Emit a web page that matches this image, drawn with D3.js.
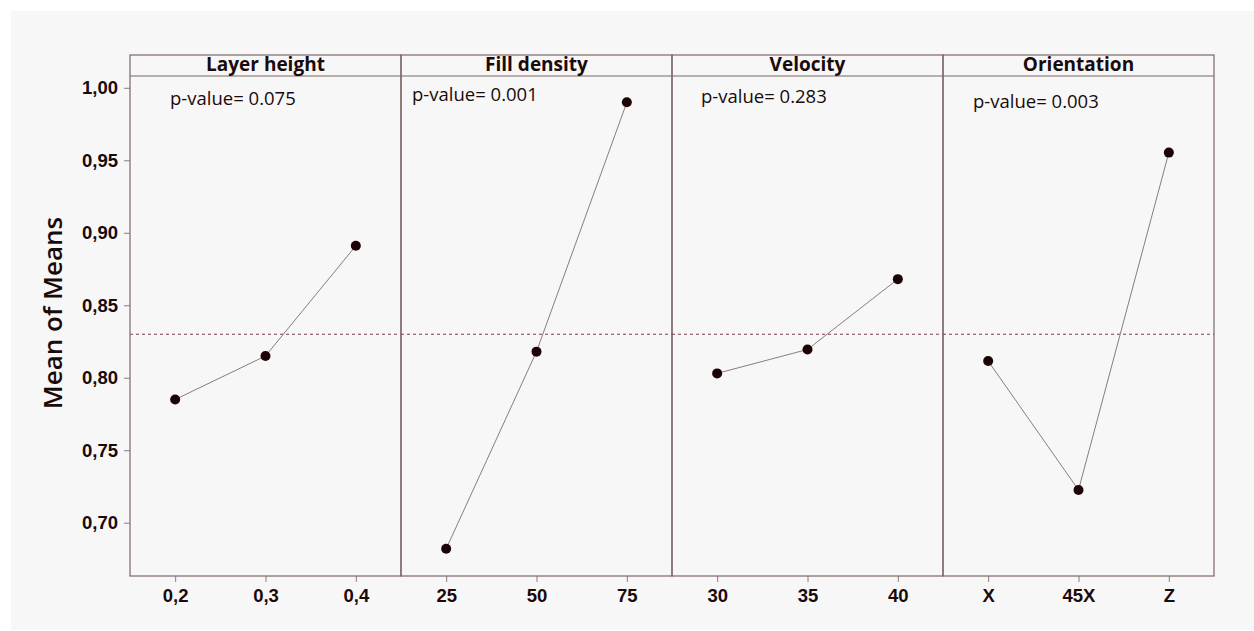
<!DOCTYPE html>
<html>
<head>
<meta charset="utf-8">
<script src="https://cdn.jsdelivr.net/npm/d3@7"></script>
<style>
  html, body { margin: 0; padding: 0; background: #ffffff; }
  svg { display: block; font-family: "Open Sans", "Noto Sans", sans-serif; }
</style>
</head>
<body>
<svg id="chart" width="1254" height="631"></svg>
<script>
// Main effects plot: mean of means for each factor level
const factors = ["Layer height", "Fill density", "Velocity", "Orientation"];
const pValues = ["0.075", "0.001", "0.283", "0.003"];
const layerLevels = ["0,2", "0,3", "0,4"];
const layerMeans = [0.785, 0.815, 0.891];
const fillLevels = ["25", "50", "75"];
const fillMeans = [0.682, 0.818, 0.990];
const velocityLevels = ["30", "35", "40"];
const velocityMeans = [0.803, 0.8195, 0.868];
const orientationLevels = ["X", "45X", "Z"];
const orientationMeans = [0.8115, 0.7226, 0.9553];
const grandMean = 0.830;
const yTicks = [0.70, 0.75, 0.80, 0.85, 0.90, 0.95, 1.00];

const panels = [
  { levels: layerLevels, means: layerMeans },
  { levels: fillLevels, means: fillMeans },
  { levels: velocityLevels, means: velocityMeans },
  { levels: orientationLevels, means: orientationMeans }
].map((p, i) => ({ ...p, name: factors[i], p: pValues[i] }));

// p-value label placement inside each panel (offset from panel left, y)
const pLabelPos = [[40, 99], [11, 95], [29, 97], [30, 102]];

const svg = d3.select("#chart");
const frameColor = "#7b6666";
const textColor = "#1a0a0a";

svg.append("rect").attr("x", 11).attr("y", 11).attr("width", 1243).attr("height", 619)
  .attr("fill", "#f7f7f7");

const plotLeft = 130, plotRight = 1214, plotTop = 55, stripBottom = 76, plotBottom = 576;
const panelW = (plotRight - plotLeft) / panels.length;

const y = d3.scaleLinear().domain([0.70, 1.00]).range([522.7, 87.8]);

// Y axis
const yAxis = svg.append("g").attr("transform", `translate(${plotLeft},0)`)
  .call(d3.axisLeft(y).tickValues(yTicks).tickSize(6).tickPadding(6)
    .tickFormat(d => d3.format(".2f")(d).replace(".", ",")));
yAxis.select(".domain").remove();
yAxis.selectAll(".tick line").attr("stroke", "#8a7f7f");
yAxis.selectAll(".tick text").attr("font-size", 18.5).attr("font-weight", 600)
  .attr("fill", textColor);

svg.append("text")
  .attr("transform", `translate(62,313) rotate(-90)`)
  .attr("text-anchor", "middle").attr("font-size", 26).attr("font-weight", 600)
  .attr("fill", textColor).text("Mean of Means");

panels.forEach((p, i) => {
  const x0 = plotLeft + i * panelW;
  const x = d3.scalePoint().domain(p.levels).range([x0, x0 + panelW]).padding(0.5);
  const g = svg.append("g");

  // X axis
  const xAxis = g.append("g").attr("transform", `translate(0,${plotBottom})`)
    .call(d3.axisBottom(x).tickSize(6).tickPadding(7));
  xAxis.select(".domain").remove();
  xAxis.selectAll(".tick line").attr("stroke", "#8a7f7f");
  xAxis.selectAll(".tick text").attr("font-size", 18.5).attr("font-weight", 600)
    .attr("fill", textColor);

  // Grand mean reference line
  g.append("line").attr("x1", x0).attr("x2", x0 + panelW)
    .attr("y1", y(grandMean)).attr("y2", y(grandMean))
    .attr("stroke", "#7a3d48").attr("stroke-width", 1).attr("stroke-dasharray", "3,3");

  // Connecting line and level means
  const line = d3.line().x((d, j) => x(p.levels[j])).y(d => y(d));
  g.append("path").attr("d", line(p.means)).attr("fill", "none")
    .attr("stroke", "#8c7b7e").attr("stroke-width", 1);
  g.selectAll("circle").data(p.means).join("circle")
    .attr("cx", (d, j) => x(p.levels[j])).attr("cy", d => y(d)).attr("r", 5)
    .attr("fill", "#1c0306");

  // Panel frame and strip
  g.append("rect").attr("x", x0).attr("y", plotTop).attr("width", panelW).attr("height", plotBottom - plotTop)
    .attr("fill", "none").attr("stroke", frameColor).attr("stroke-width", 1.2);
  g.append("line").attr("x1", x0).attr("x2", x0 + panelW).attr("y1", stripBottom).attr("y2", stripBottom)
    .attr("stroke", frameColor).attr("stroke-width", 1.2);
  g.append("text").attr("x", x0 + panelW / 2).attr("y", 71).attr("text-anchor", "middle")
    .attr("font-size", 19).attr("font-weight", 700).attr("fill", textColor).text(p.name);

  g.append("text").attr("x", x0 + pLabelPos[i][0]).attr("y", pLabelPos[i][1] + 6)
    .attr("font-size", 18.5).attr("fill", textColor).text("p-value= " + p.p);
});
</script>
</body>
</html>
